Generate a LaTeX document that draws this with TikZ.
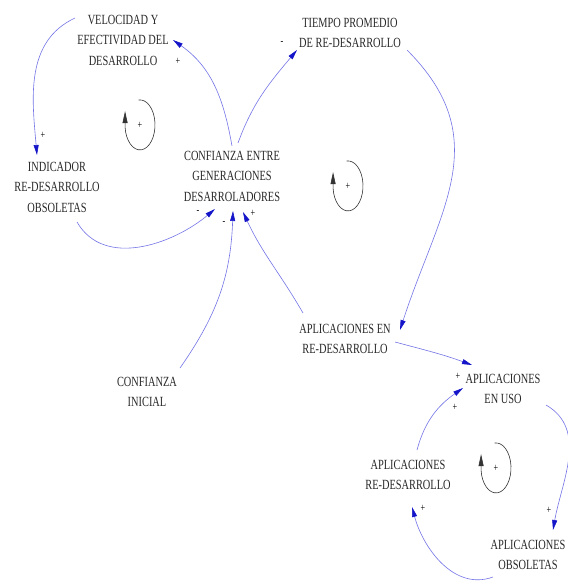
\documentclass[tikz,border=0pt]{standalone}
\usepackage{fontspec}
\setmainfont{Liberation Serif}[FakeStretch=0.74]
\usetikzlibrary{arrows.meta}
\definecolor{linkblue}{RGB}{115,115,230}
\definecolor{tipblue}{RGB}{20,20,200}
\definecolor{txtgray}{RGB}{40,40,40}

\begin{document}
\begin{tikzpicture}[x=1pt,y=1pt,
  var/.style={align=center, font=\fontsize{14}{20.5}\selectfont, text=txtgray, inner sep=1pt},
  link/.style={color=linkblue, line width=0.6pt, -{Triangle[length=10pt,width=5pt,color=tipblue]}},
  sign/.style={font=\fontsize{11}{11}\selectfont, text=black, inner sep=0pt},
  loopline/.style={line width=0.6pt, color=black!80, -{Triangle[length=12pt,width=5pt]}}]

  \useasboundingbox (0,0) rectangle (567,-583);

  % variables
  \node[var] (veloc)   at (123,-40)  {VELOCIDAD Y\\EFECTIVIDAD DEL\\DESARROLLO};
  \node[var] (tiempo)  at (350,-33)  {TIEMPO PROMEDIO\\DE RE-DESARROLLO};
  \node[var] (indic)   at (57,-187)  {INDICADOR\\RE-DESARROLLO\\OBSOLETAS};
  \node[var] (conf)    at (232,-176) {CONFIANZA ENTRE\\GENERACIONES\\DESARROLADORES};
  \node[var] (inicial) at (147,-392) {CONFIANZA\\INICIAL};
  \node[var] (aplen)   at (345,-339) {APLICACIONES EN\\RE-DESARROLLO};
  \node[var] (enuso)   at (503,-389) {APLICACIONES\\EN USO};
  \node[var] (aplre)   at (408,-475) {APLICACIONES\\RE-DESARROLLO};
  \node[var] (obs)     at (528,-555) {APLICACIONES\\OBSOLETAS};

  % loop markers
  \foreach \nm/\cx/\cy in {loopa/140/125, loopb/348/186, loopc/496/468}{
    \node[sign] (\nm) at (\cx,-\cy) {+};
    \draw[loopline] ([shift={(-1.3,25)}]\nm.center)
      arc[start angle=95, end angle=-175, x radius=15pt, y radius=25pt] -- ++(0,16);
  }

  % links
  \draw[link] ([shift={(-48,22)}]veloc.center) to[out=205,in=95]
    node[sign,pos=1,shift={(6,20)}]{+} ([shift={(-20,32)}]indic.center);
  \draw[link] ([shift={(20,-35)}]indic.center) to[out=-60,in=220]
    node[sign,pos=1,shift={(-17,-3)}]{-} ([shift={(-17,-33)}]conf.center);
  \draw[link] ([shift={(33,24)}]inicial.center) to[out=55,in=-92]
    node[sign,pos=1,shift={(-9,-12)}]{-} ([shift={(1,-35)}]conf.center);
  \draw[link] ([shift={(-42,26)}]aplen.center) to[out=120,in=-65]
    node[sign,pos=1,shift={(10,-1)}]{+} ([shift={(11,-36)}]conf.center);
  \draw[link] ([shift={(0,30)}]conf.center) to[out=100,in=-35]
    node[sign,pos=1,shift={(5,-21)}]{+} ([shift={(50,0)}]veloc.center);
  \draw[link] ([shift={(6,33)}]conf.center) to[out=70,in=230]
    node[sign,pos=1,shift={(-15,7)}]{-} ([shift={(-53,-17)}]tiempo.center);
  \draw[link] ([shift={(57,-17)}]tiempo.center) to[out=-45,in=72,looseness=1.15]
    ([shift={(55,9)}]aplen.center);
  \draw[link] ([shift={(50,-3)}]aplen.center) to[out=-15,in=160]
    node[sign,pos=1,shift={(-14,-11)}]{+} ([shift={(-31,24)}]enuso.center);
  \draw[link] ([shift={(43,-16)}]enuso.center) to[out=-30,in=80]
    node[sign,pos=1,shift={(-4,20)}]{+} ([shift={(25,25)}]obs.center);
  \draw[link] ([shift={(-35,-22)}]obs.center) to[out=200,in=-75]
    node[sign,pos=1,shift={(11,-1)}]{+} ([shift={(4,-32)}]aplre.center);
  \draw[link] ([shift={(9,25)}]aplre.center) to[out=75,in=215]
    node[sign,pos=1,shift={(-8,-19)}]{+} ([shift={(-40,1)}]enuso.center);
\end{tikzpicture}
\end{document}
